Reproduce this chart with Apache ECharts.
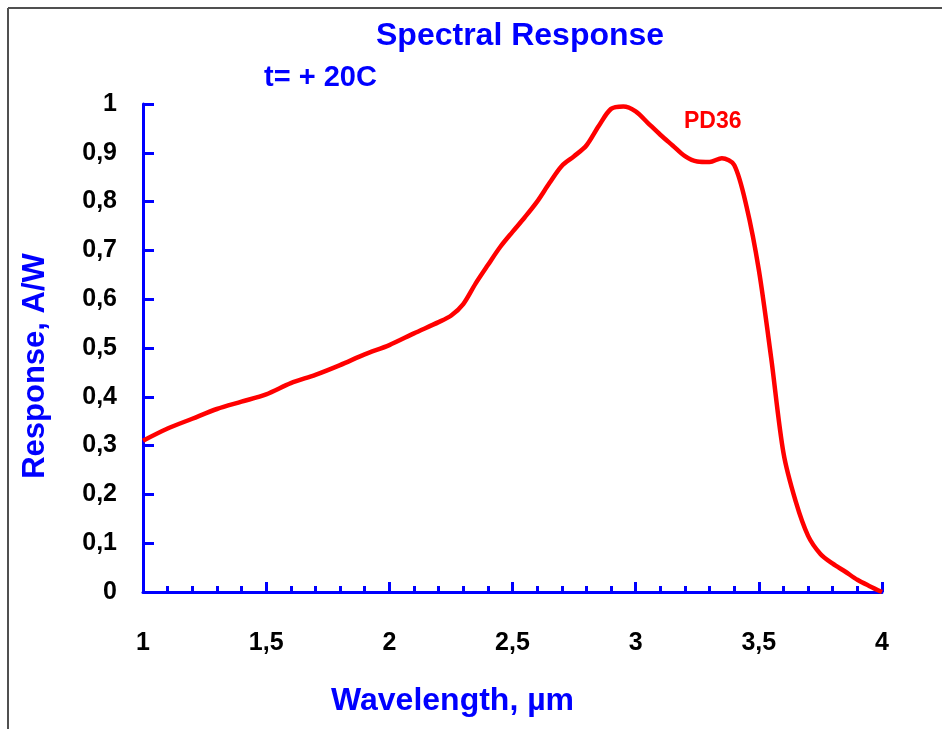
<!DOCTYPE html>
<html>
<head>
<meta charset="utf-8">
<script src="https://cdn.jsdelivr.net/npm/echarts@6/dist/echarts.min.js"></script>
<style>
html,body{margin:0;padding:0;background:#fff;}
#chart{width:942px;height:729px;}
</style>
</head>
<body>
<div id="chart"></div>
<script>
// Wavelength (µm)
const wavelength = [1.0,1.1,1.2,1.3,1.4,1.5,1.6,1.7,1.8,1.9,2.0,2.1,2.2,2.25,2.3,2.35,2.4,2.45,2.5,2.55,2.6,2.65,2.7,2.75,2.8,2.85,2.9,2.95,3.0,3.05,3.1,3.15,3.2,3.25,3.3,3.35,3.4,3.45,3.5,3.55,3.6,3.65,3.7,3.75,3.8,3.85,3.9,3.95,4.0];
// Response (A/W) for PD36
const responsePD36 = [0.31,0.335,0.355,0.375,0.39,0.405,0.428,0.445,0.465,0.487,0.506,0.53,0.553,0.566,0.59,0.632,0.67,0.707,0.738,0.768,0.8,0.838,0.873,0.893,0.915,0.955,0.99,0.995,0.985,0.961,0.937,0.915,0.893,0.882,0.881,0.889,0.875,0.79,0.66,0.48,0.285,0.185,0.115,0.078,0.058,0.042,0.025,0.012,0.0];
const yTicks = [0,0.1,0.2,0.3,0.4,0.5,0.6,0.7,0.8,0.9,1];
const xTicks = [1,1.5,2,2.5,3,3.5,4];

const seriesData = wavelength.map((w,i)=>[w,responsePD36[i]]);
const fmt = v => String(Math.round(v*10)/10).replace('.', ',');
const BLUE = '#0000FF';
const FONT = '"Liberation Sans", Arial, sans-serif';

const chart = echarts.init(document.getElementById('chart'), null, {renderer:'canvas'});
chart.setOption({
  backgroundColor:'#ffffff',
  animation:false,
  grid:{left:143, right:60, top:104, bottom:137, containLabel:false},
  xAxis:{
    type:'value', min:xTicks[0], max:xTicks[xTicks.length-1], interval:0.5,
    axisLine:{show:true, onZero:false, lineStyle:{color:BLUE, width:3}},
    axisTick:{show:true, inside:true, length:10, lineStyle:{color:BLUE, width:3}},
    minorTick:{show:true, splitNumber:5, length:6, lineStyle:{color:BLUE, width:3}},
    splitLine:{show:false},
    axisLabel:{margin:39, color:'#000', fontSize:25, fontWeight:'bold', fontFamily:FONT, formatter:fmt}
  },
  yAxis:{
    type:'value', min:yTicks[0], max:yTicks[yTicks.length-1], interval:0.1,
    axisLine:{show:true, onZero:false, lineStyle:{color:BLUE, width:3}},
    axisTick:{show:true, inside:true, length:11, lineStyle:{color:BLUE, width:3}},
    splitLine:{show:false},
    axisLabel:{margin:26, color:'#000', fontSize:25, fontWeight:'bold', fontFamily:FONT, formatter:fmt}
  },
  series:[{
    name:'PD36', type:'line', data:seriesData, smooth:0.3, showSymbol:false,
    lineStyle:{color:'#FF0000', width:4.5}, z:5
  }],
  graphic:[
    {type:'line', shape:{x1:8, y1:8, x2:942, y2:8}, style:{stroke:'#505050', lineWidth:2}, silent:true},
    {type:'line', shape:{x1:8, y1:8, x2:8, y2:729}, style:{stroke:'#505050', lineWidth:2}, silent:true},
    {type:'text', left:376, top:20, style:{text:'Spectral Response', fill:BLUE, font:'bold 32px '+FONT}},
    {type:'text', left:264, top:63, style:{text:'t= + 20C', fill:BLUE, font:'bold 29px '+FONT}},
    {type:'text', left:684, top:110, style:{text:'PD36', fill:'#FF0000', font:'bold 23px '+FONT}},
    {type:'text', left:331, top:685, style:{text:'Wavelength, µm', fill:BLUE, font:'bold 32px '+FONT}},
    {type:'text', x:35, y:366, rotation:Math.PI/2, style:{text:'Response, A/W', fill:BLUE, font:'bold 31px '+FONT, align:'center', verticalAlign:'middle'}}
  ]
});
</script>
</body>
</html>
